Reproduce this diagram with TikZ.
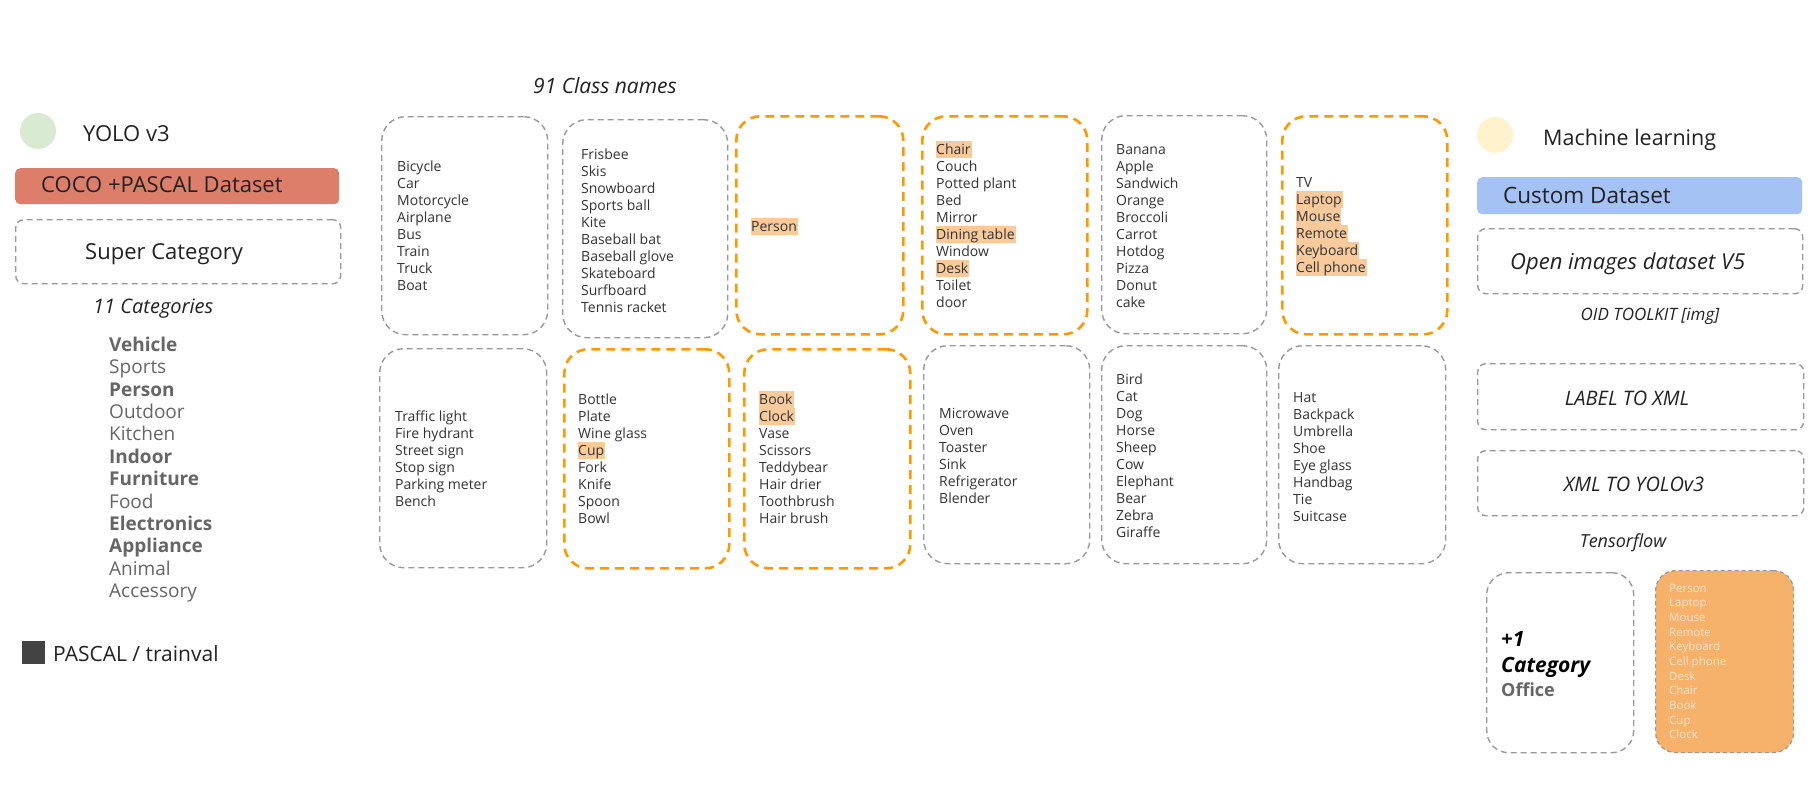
\documentclass[tikz,border=0pt]{standalone}
\usepackage{fontspec}
\setmainfont{Open Sans}
\definecolor{greenc}{HTML}{D9EAD3}
\definecolor{yellowc}{HTML}{FFF2CC}
\definecolor{redc}{HTML}{DD7E6B}
\definecolor{bluec}{HTML}{A4C2F4}
\definecolor{hlc}{HTML}{F9CB9C}
\definecolor{orc}{HTML}{FF9900}
\definecolor{orfill}{HTML}{F6B26B}
\definecolor{dashg}{HTML}{999999}
\definecolor{txt}{HTML}{333333}
\definecolor{head}{HTML}{222222}
\definecolor{catg}{HTML}{666666}
\definecolor{cream}{HTML}{FCE5CD}
\definecolor{darksq}{HTML}{434343}
\newcommand\hl[1]{\setbox0=\hbox{#1}\rlap{\color{hlc}\rule[-3.5pt]{\dimexpr\wd0+1pt\relax}{17pt}}\box0}
\newcommand\ts[1]{\rule{0pt}{#1pt}}
\begin{document}
\begin{tikzpicture}[x=1pt,y=-1pt,
  gbox/.style={draw=dashg, line width=1.4pt, dash pattern=on 6pt off 4pt, rounded corners=24pt, inner sep=0, anchor=north west},
  obox/.style={draw=orc, line width=2.6pt, dash pattern=on 9pt off 6pt, rounded corners=24pt, inner sep=0, anchor=north west},
  dbox/.style={draw=dashg, line width=1.4pt, dash pattern=on 6pt off 4pt, rounded corners=8pt, inner sep=0, anchor=north west},
  fbox/.style={rounded corners=5pt, inner sep=0, anchor=north west},
  lst/.style={anchor=north west, inner sep=0, align=left, text=txt, font=\fontsize{14}{17}\selectfont},
  lbl/.style={anchor=base west, inner sep=0, text=head},
  clbl/.style={anchor=base, inner sep=0, text=head},
  dot/.style={circle, inner sep=0, minimum size=36pt}
]
\useasboundingbox[fill=white] (0,0) rectangle (1812,806);

% ---------- left panel ----------
\node[dot, fill=greenc] (gdot) at (38,131) {};
\node[lbl, font=\fontsize{22}{26}\selectfont] (yolo) at (83,141) {YOLO v3};
\node[fbox, fill=redc, minimum width=324pt, minimum height=36pt] (coco) at (15,168) {};
\node[lbl, font=\fontsize{22}{26}\selectfont] (cocot) at (41,192) {COCO +PASCAL Dataset};
\node[dbox, minimum width=325pt, minimum height=64pt] (super) at (15,219) {};
\node[lbl, font=\fontsize{22}{26}\selectfont] (supert) at (85,259) {Super Category};
\node[lbl, font=\fontsize{20}{24}\selectfont\itshape] (cat11) at (93,313) {11 Categories};
\node[lst, text=catg, font=\fontsize{19}{22.4}\selectfont] (cats) at (109,333)
  {\ts{18}\textbf{Vehicle}\\Sports\\\textbf{Person}\\Outdoor\\Kitchen\\\textbf{Indoor}\\\textbf{Furniture}\\Food\\\textbf{Electronics}\\\textbf{Appliance}\\Animal\\Accessory};
\node[fill=darksq, inner sep=0, minimum size=23pt, anchor=north west] (sq) at (22,641) {};
\node[lbl, font=\fontsize{21}{25}\selectfont] (pascal) at (53,661) {PASCAL / trainval};

% ---------- middle grid ----------
\node[lbl, font=\fontsize{21}{25}\selectfont\itshape] (c91) at (533,93) {91 Class names};

\node[gbox, minimum width=166pt, minimum height=218pt] (b11) at (381,116) {};
\node[lst] (l11) at (397,157.5) {\ts{13.5}Bicycle\\Car\\Motorcycle\\Airplane\\Bus\\Train\\Truck\\Boat};
\node[gbox, minimum width=165pt, minimum height=218pt] (b12) at (562,119) {};
\node[lst] (l12) at (581,145.5) {\ts{13.5}Frisbee\\Skis\\Snowboard\\Sports ball\\Kite\\Baseball bat\\Baseball glove\\Skateboard\\Surfboard\\Tennis racket};
\node[obox, minimum width=167pt, minimum height=218pt] (b13) at (735,115) {};
\node[lst] (l13) at (751,217.5) {\ts{13.5}\hl{Person}};
\node[obox, minimum width=165pt, minimum height=218pt] (b14) at (921,115) {};
\node[lst] (l14) at (936,140.5) {\ts{13.5}\hl{Chair}\\Couch\\Potted plant\\Bed\\Mirror\\\hl{Dining table}\\Window\\\hl{Desk}\\Toilet\\door};
\node[gbox, minimum width=165pt, minimum height=218pt] (b15) at (1101,115) {};
\node[lst] (l15) at (1116,140.5) {\ts{13.5}Banana\\Apple\\Sandwich\\Orange\\Broccoli\\Carrot\\Hotdog\\Pizza\\Donut\\cake};
\node[obox, minimum width=165pt, minimum height=218pt] (b16) at (1281,115) {};
\node[lst] (l16) at (1296,173.5) {\ts{13.5}TV\\\hl{Laptop}\\\hl{Mouse}\\\hl{Remote}\\\hl{Keyboard}\\\hl{Cell phone}};

\node[gbox, minimum width=167pt, minimum height=219pt] (b21) at (379,348) {};
\node[lst] (l21) at (395,407.5) {\ts{13.5}Traffic light\\Fire hydrant\\Street sign\\Stop sign\\Parking meter\\Bench};
\node[obox, minimum width=165pt, minimum height=219pt] (b22) at (563,348) {};
\node[lst] (l22) at (578,390.5) {\ts{13.5}Bottle\\Plate\\Wine glass\\\hl{Cup}\\Fork\\Knife\\Spoon\\Bowl};
\node[obox, minimum width=166pt, minimum height=219pt] (b23) at (743,348) {};
\node[lst] (l23) at (759,390.5) {\ts{13.5}\hl{Book}\\\hl{Clock}\\Vase\\Scissors\\Teddybear\\Hair drier\\Toothbrush\\Hair brush};
\node[gbox, minimum width=166pt, minimum height=218pt] (b24) at (923,345) {};
\node[lst] (l24) at (939,404.5) {\ts{13.5}Microwave\\Oven\\Toaster\\Sink\\Refrigerator\\Blender};
\node[gbox, minimum width=165pt, minimum height=218pt] (b25) at (1101,345) {};
\node[lst] (l25) at (1116,370.5) {\ts{13.5}Bird\\Cat\\Dog\\Horse\\Sheep\\Cow\\Elephant\\Bear\\Zebra\\Giraffe};
\node[gbox, minimum width=167pt, minimum height=218pt] (b26) at (1278,345) {};
\node[lst] (l26) at (1293,388.5) {\ts{13.5}Hat\\Backpack\\Umbrella\\Shoe\\Eye glass\\Handbag\\Tie\\Suitcase};

% ---------- right panel ----------
\node[dot, fill=yellowc] (ydot) at (1495,135) {};
\node[lbl, font=\fontsize{21.5}{26}\selectfont] (ml) at (1543,145) {Machine learning};
\node[fbox, fill=bluec, minimum width=325pt, minimum height=37pt] (custom) at (1477,177) {};
\node[lbl, font=\fontsize{22.5}{27}\selectfont] (customt) at (1503,203) {Custom Dataset};
\node[dbox, minimum width=325pt, minimum height=65pt] (open) at (1477,228) {};
\node[lbl, font=\fontsize{22}{26}\selectfont\itshape] (opent) at (1510,269) {Open images dataset V5};
\node[clbl, font=\fontsize{17}{20}\selectfont\itshape] (oid) at (1650,320) {OID TOOLKIT [img]};
\node[dbox, minimum width=326pt, minimum height=66pt] (label) at (1477,363) {};
\node[clbl, font=\fontsize{20}{24}\selectfont\itshape] (labelt) at (1627,405) {LABEL TO XML};
\node[dbox, minimum width=326pt, minimum height=65pt] (xml) at (1477,450) {};
\node[clbl, font=\fontsize{20}{24}\selectfont\itshape] (xmlt) at (1634,491) {XML TO YOLOv3};
\node[clbl, font=\fontsize{18}{22}\selectfont\itshape] (tf) at (1623,547) {Tensorflow};

\node[gbox, rounded corners=22pt, minimum width=147pt, minimum height=180pt] (plus) at (1486,572) {};
\node[lbl, text=black, font=\fontsize{21}{25}\selectfont\bfseries\itshape] (plus1) at (1501,646) {+1};
\node[lbl, text=black, font=\fontsize{21}{25}\selectfont\bfseries\itshape] (pluscat) at (1501,672) {Category};
\node[lbl, text=catg, font=\fontsize{18}{22}\selectfont\bfseries] (office) at (1501,696) {Office};
\node[gbox, fill=orfill, line width=1.2pt, dash pattern=on 4pt off 3pt, rounded corners=20pt, minimum width=138pt, minimum height=182pt] (obj) at (1655,570) {};
\node[lst, text=cream, font=\fontsize{11.5}{14.67}\selectfont] (objl) at (1669,582)
  {\ts{10}Person\\Laptop\\Mouse\\Remote\\Keyboard\\Cell phone\\Desk\\Chair\\Book\\Cup\\Clock};
\end{tikzpicture}
\end{document}
